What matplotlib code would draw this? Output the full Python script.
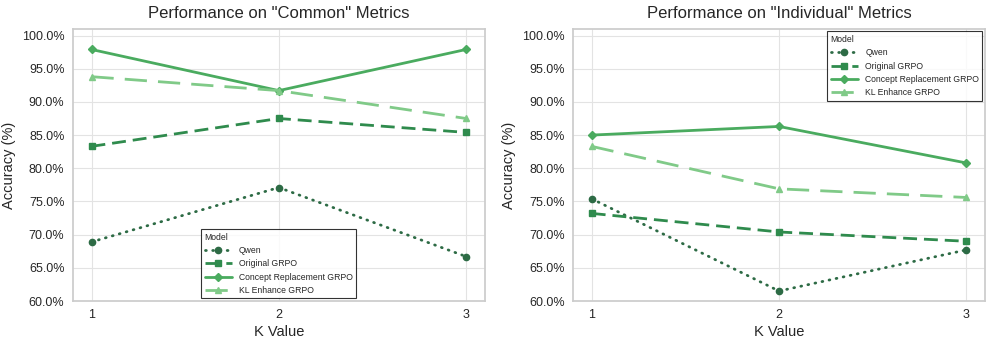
import matplotlib.pyplot as plt
import seaborn as sns
from matplotlib.ticker import PercentFormatter

sns.set_theme(style="whitegrid")
plt.rcParams['font.family'] = ['Liberation Sans', 'DejaVu Sans']

k_values = [1, 2, 3]
models = ["Qwen", "Original GRPO", "Concept Replacement GRPO", "KL Enhance GRPO"]

# accuracy (%) per model, K = 1, 2, 3
common_qwen = [68.9, 77.1, 66.7]
common_orig = [83.3, 87.5, 85.4]
common_concept = [97.9, 91.7, 97.9]
common_kl = [93.8, 91.7, 87.5]

indiv_qwen = [75.4, 61.5, 67.7]
indiv_orig = [73.2, 70.4, 69.0]
indiv_concept = [85.0, 86.3, 80.8]
indiv_kl = [83.3, 76.9, 75.6]

colors = ["#2d6b45", "#2f8b4d", "#4aab5f", "#80ca88"]
styles = [(0, (0.3, 2.3)), (0, (5, 2.5)), "-", (0, (8, 4))]
caps = ["round", "butt", "butt", "butt"]
markers = ["o", "s", "D", "^"]

fig, axes = plt.subplots(1, 2, figsize=(9.97, 3.44), dpi=100)

panels = [
    ('Performance on "Common" Metrics', [common_qwen, common_orig, common_concept, common_kl], "lower center"),
    ('Performance on "Individual" Metrics', [indiv_qwen, indiv_orig, indiv_concept, indiv_kl], "upper right"),
]

for ax, (title, series, loc) in zip(axes, panels):
    for name, vals, c, ls, cap, m in zip(models, series, colors, styles, caps, markers):
        ax.plot(k_values, vals, color=c, linestyle=ls, marker=m, markersize=4.5,
                linewidth=2, label=name, dash_capstyle=cap)
    ax.set_title(title, fontsize=12, pad=8)
    ax.set_xlabel("K Value", fontsize=10.5, labelpad=3)
    ax.set_ylabel("Accuracy (%)", fontsize=10.5, labelpad=4)
    ax.set_xticks(k_values)
    ax.set_ylim(60, 101)
    ax.set_yticks(range(60, 101, 5))
    ax.yaxis.set_major_formatter(PercentFormatter(decimals=1))
    ax.tick_params(labelsize=9, length=0, pad=6, colors="#262626")
    ax.grid(color="#e3e3e3", linewidth=0.8)
    leg = ax.legend(title="Model", loc=loc, fontsize=6.2, title_fontsize=6.2,
                    frameon=True, fancybox=False, edgecolor="black", handlelength=3.2,
                    borderaxespad=0.3)
    leg._legend_box.align = "left"
    leg.get_frame().set_linewidth(0.8)
    for s in ax.spines.values():
        s.set_color("#cccccc")

fig.subplots_adjust(left=0.073, right=0.988, bottom=0.125, top=0.916, wspace=0.214)
plt.savefig("out.png", dpi=100)
